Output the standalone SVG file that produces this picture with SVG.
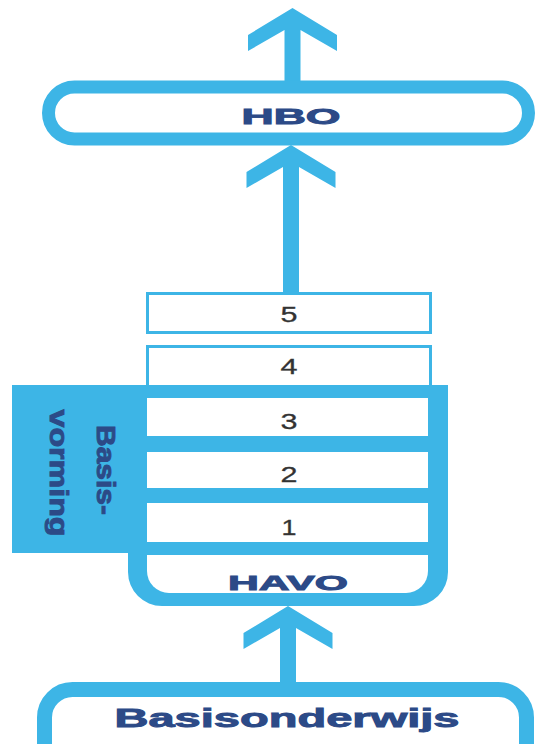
<svg xmlns="http://www.w3.org/2000/svg" width="537" height="744" viewBox="0 0 537 744">
  <style>
    .blue { fill: #3db5e6; }
    .frame { fill: #ffffff; stroke: #3db5e6; }
    .lbl { font-family: "Liberation Sans", Arial, sans-serif; font-weight: bold; fill: #2c4a87; stroke: #2c4a87; stroke-width: 0.9px; text-anchor: middle; }
    .num { font-family: "Liberation Sans", Arial, sans-serif; font-size: 22px; fill: #333333; stroke: #333333; stroke-width: 0.3px; text-anchor: middle; }
  </style>
  <rect width="537" height="744" fill="#ffffff"/>

  <g id="connectors" class="blue">
    <polygon points="292.5,8 337,35 337,51 300.5,30 300.5,84 284.5,84 284.5,30 248,51 248,35"/>
    <polygon points="291,145 335.5,172 335.5,188 299,167 299,294 283,294 283,167 246.5,188 246.5,172"/>
    <polygon points="288,606 332.5,633 332.5,649 296,628 296,684 280,684 280,628 243.5,649 243.5,633"/>
  </g>

  <g id="hbo">
    <rect class="frame" x="48.5" y="87" width="480" height="52" rx="26" stroke-width="13"/>
    <text class="lbl" x="291" y="124" font-size="22" textLength="99" lengthAdjust="spacingAndGlyphs">HBO</text>
  </g>

  <g id="year5">
    <rect class="frame" x="147.5" y="293.5" width="283" height="39" stroke-width="3"/>
    <text class="num" x="289" y="322" textLength="17" lengthAdjust="spacingAndGlyphs">5</text>
  </g>

  <g id="year4">
    <rect class="frame" x="147.5" y="346.5" width="283" height="42" stroke-width="3"/>
    <text class="num" x="289" y="374" textLength="17" lengthAdjust="spacingAndGlyphs">4</text>
  </g>

  <g id="havo">
    <path class="blue" d="M12,385 H448 V572 A34,34 0 0 1 414,606 H162 A34,34 0 0 1 128,572 V553 H12 Z"/>
    <path fill="#ffffff" d="M147,555 H428 V571 A22,22 0 0 1 406,593 H169 A22,22 0 0 1 147,571 Z"/>
    <text class="lbl" x="288" y="590" font-size="21" textLength="120" lengthAdjust="spacingAndGlyphs">HAVO</text>
  </g>

  <g id="year3">
    <rect fill="#ffffff" x="147" y="398" width="281" height="38"/>
    <text class="num" x="289" y="429" textLength="17" lengthAdjust="spacingAndGlyphs">3</text>
  </g>

  <g id="year2">
    <rect fill="#ffffff" x="147" y="452" width="281" height="36"/>
    <text class="num" x="289" y="482" textLength="17" lengthAdjust="spacingAndGlyphs">2</text>
  </g>

  <g id="year1">
    <rect fill="#ffffff" x="147" y="503" width="281" height="39"/>
    <text class="num" x="289" y="535" textLength="15" lengthAdjust="spacingAndGlyphs">1</text>
  </g>

  <g id="basisvorming">
    <text class="lbl" font-size="25" transform="translate(97,470) rotate(90)" x="0" y="0" textLength="90" lengthAdjust="spacingAndGlyphs">Basis-</text>
    <text class="lbl" font-size="25" transform="translate(50,473) rotate(90)" x="0" y="0" textLength="127" lengthAdjust="spacingAndGlyphs">vorming</text>
  </g>

  <g id="basisonderwijs">
    <rect class="frame" x="44.5" y="689.5" width="482" height="100" rx="28" stroke-width="15"/>
    <text class="lbl" x="287" y="727" font-size="26" textLength="345" lengthAdjust="spacingAndGlyphs">Basisonderwijs</text>
  </g>
</svg>
